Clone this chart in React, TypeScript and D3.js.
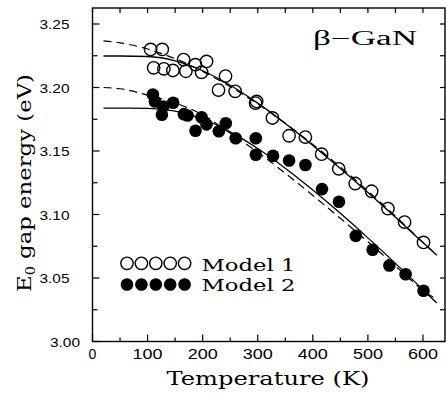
import React from "react";
import * as d3 from "d3";

// Model 1 (open circles) data
const m1T = [105.5, 126.6, 111, 129.6, 146, 165.4, 169.5, 187, 198, 207, 228.8, 241.5, 259, 296, 298, 326.7, 356.9, 386.5, 416, 447, 477, 506.8, 536.4, 566.6, 601];
const m1E = [3.230, 3.230, 3.2155, 3.2147, 3.2134, 3.222, 3.2128, 3.218, 3.212, 3.2205, 3.198, 3.209, 3.197, 3.1877, 3.189, 3.176, 3.162, 3.161, 3.1475, 3.136, 3.1244, 3.1183, 3.1047, 3.094, 3.078];

// Model 2 (filled circles) data
const m2T = [109.7, 113.3, 128.4, 126, 146.5, 166, 172.6, 187, 198, 207, 229.4, 242, 260, 296.5, 296.5, 327.8, 356.9, 386.6, 416.7, 447.5, 478, 508.6, 539, 568.5, 601];
const m2E = [3.1945, 3.189, 3.185, 3.1785, 3.188, 3.179, 3.178, 3.166, 3.1766, 3.171, 3.1656, 3.1719, 3.160, 3.160, 3.147, 3.1462, 3.1425, 3.139, 3.120, 3.110, 3.0832, 3.0722, 3.0598, 3.053, 3.040];

// Fit curves
const curveT = [20, 50, 100, 150, 200, 250, 300, 350, 400, 450, 500, 550, 600, 625];
const fit1Solid = [3.2248, 3.2248, 3.2244, 3.2210, 3.2132, 3.2018, 3.1877, 3.1717, 3.1544, 3.1362, 3.1173, 3.0978, 3.0779, 3.0679];
const fit1Dashed = [3.2367, 3.2352, 3.2303, 3.2227, 3.2127, 3.2007, 3.1870, 3.1718, 3.1552, 3.1374, 3.1185, 3.0987, 3.0780, 3.0682];
const fit2Solid = [3.1838, 3.1838, 3.1836, 3.1814, 3.1752, 3.1651, 3.1520, 3.1365, 3.1193, 3.1009, 3.0816, 3.0615, 3.0408, 3.0303];
const fit2Dashed = [3.2000, 3.1990, 3.1940, 3.1878, 3.1785, 3.1640, 3.1490, 3.1325, 3.1150, 3.0970, 3.0785, 3.0595, 3.0405, 3.0330];

const xTickLabels = ["0", "100", "200", "300", "400", "500", "600"];
const yTickLabels = ["3.00", "3.05", "3.10", "3.15", "3.20", "3.25"];
const legendLabels = ["Model 1", "Model 2"];

const W = 446, H = 396;
const x = d3.scaleLinear().domain([0, 640]).range([92.5, 445]);
const y = d3.scaleLinear().domain([3.0, 3.2626]).range([341.5, 8]);

const typew = "'DejaVu Serif', 'Liberation Serif', serif";
const sans = "'Liberation Sans', Arial, sans-serif";
const serif = "'Liberation Serif', 'DejaVu Serif', serif";

export default function App() {
  const line = d3.line<number>().x((_, i) => x(curveT[i])).y((d) => y(d)).curve(d3.curveMonotoneX);
  const xMinor = d3.range(0, 641, 50);
  const yMinor = d3.range(0, 11).map((i) => 3.0 + i * 0.025);
  const [x0, x1] = x.range();
  const [y0, y1] = y.range();
  return (
    <svg width={W} height={H} style={{ position: "absolute", left: 0, top: 0, background: "#fff" }}>
      <rect x={0} y={0} width={W} height={H} fill="#fff" />
      {/* frame */}
      <rect x={x0} y={y1} width={x1 - x0} height={y0 - y1} fill="none" stroke="#000" strokeWidth={1.4} />
      {/* bottom & top ticks */}
      {xMinor.map((t) => {
        const major = t % 100 === 0;
        return (
          <g key={"xt" + t}>
            <line x1={x(t)} x2={x(t)} y1={y0} y2={y0 - (major ? 7 : 4)} stroke="#000" strokeWidth={1.2} />
            <line x1={x(t)} x2={x(t)} y1={y1} y2={y1 + 5} stroke="#000" strokeWidth={1.2} />
          </g>
        );
      })}
      {/* left & right ticks */}
      {yMinor.map((v, i) => (
        <g key={"yt" + i}>
          <line x1={x0} x2={x0 + (i % 2 === 0 ? 7 : 5)} y1={y(v)} y2={y(v)} stroke="#000" strokeWidth={1.2} />
          <line x1={x1} x2={x1 - 5} y1={y(v)} y2={y(v)} stroke="#000" strokeWidth={1.2} />
        </g>
      ))}
      {/* x tick labels */}
      {xTickLabels.map((s) => (
        <text key={"xl" + s} x={x(+s)} y={358.5} fontFamily={sans} fontSize={14} textAnchor="middle"
          textLength={s.length === 1 ? undefined : 30} lengthAdjust="spacingAndGlyphs">{s}</text>
      ))}
      {/* y tick labels */}
      {yTickLabels.map((s) => (
        <text key={"yl" + s} x={s === "3.00" ? 80 : 69.5} y={y(+s) + 5} fontFamily={sans} fontSize={13.5} textAnchor="end"
          textLength={30} lengthAdjust="spacingAndGlyphs">{s}</text>
      ))}
      {/* axis titles */}
      <text x={268} y={385} fontFamily={typew} fontSize={19} textAnchor="middle" textLength={203} lengthAdjust="spacingAndGlyphs">Temperature (K)</text>
      <text transform="translate(31,183) rotate(-90)" fontFamily={typew} fontSize={19} textAnchor="middle"
        textLength={218} lengthAdjust="spacingAndGlyphs">
        E<tspan fontSize={12} dy={4}>0</tspan><tspan dy={-4}> gap energy (eV)</tspan>
      </text>
      {/* label */}
      <text x={313} y={45} fontFamily={serif} fontSize={20} textLength={104} lengthAdjust="spacingAndGlyphs">β−GaN</text>
      {/* fit curves */}
      <path d={line(fit1Dashed) || ""} fill="none" stroke="#000" strokeWidth={1.2} strokeDasharray="8,5" />
      <path d={line(fit2Dashed) || ""} fill="none" stroke="#000" strokeWidth={1.2} strokeDasharray="8,5" />
      <path d={line(fit1Solid) || ""} fill="none" stroke="#000" strokeWidth={1.3} />
      <path d={line(fit2Solid) || ""} fill="none" stroke="#000" strokeWidth={1.3} />
      {/* data */}
      {m1T.map((t, i) => (
        <circle key={"a" + i} cx={x(t)} cy={y(m1E[i])} r={6.2} fill="none" stroke="#000" strokeWidth={1.4} />
      ))}
      {m2T.map((t, i) => (
        <circle key={"b" + i} cx={x(t)} cy={y(m2E[i])} r={6.3} fill="#000" />
      ))}
      {/* legend */}
      {d3.range(5).map((k) => (
        <g key={"lg" + k}>
          <circle cx={127 + k * 14.4} cy={263.3} r={6.2} fill="none" stroke="#000" strokeWidth={1.4} />
          <circle cx={127 + k * 14.4} cy={284.5} r={6.3} fill="#000" />
        </g>
      ))}
      {legendLabels.map((s, i) => (
        <text key={s} x={201.5} y={270.5 + i * 20.5} fontFamily={typew} fontSize={17} textLength={94} lengthAdjust="spacingAndGlyphs">{s}</text>
      ))}
    </svg>
  );
}
